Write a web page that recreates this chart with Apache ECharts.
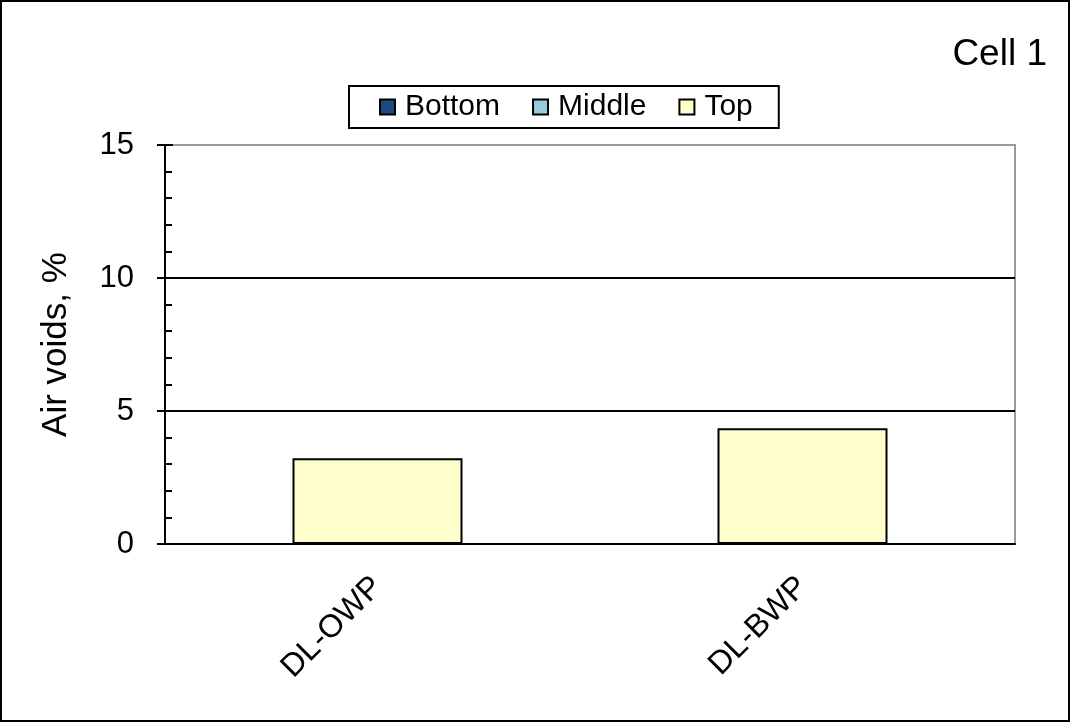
<meta charset="utf-8">
<script src="https://cdn.jsdelivr.net/npm/echarts@6/dist/echarts.min.js"></script>
<div id="main" style="position: absolute; left: 0; top: 0; width: 1071px; height: 723px;"></div>

<script type="text/javascript">
const categories = ['DL-OWP', 'DL-BWP']
const bottom = [0, 0]
const middle = [0, 0]
const top_ = [3.22, 4.35]
const yTicks = {min: 0, max: 15, interval: 5}

const font = 'Liberation Sans, Arial, sans-serif'
let myChart = echarts.init(main)

const bar = (name, color, data) => ({
  name: name,
  type: 'bar',
  stack: 'cell',
  data: data,
  barWidth: '40%',
  itemStyle: {color: color, borderColor: '#000', borderWidth: 2},
})

myChart.setOption({
  backgroundColor: '#fff',
  animation: false,
  textStyle: {fontFamily: font, color: '#000'},
  title: {
    text: 'Cell 1',
    right: 19,
    top: 31,
    textStyle: {fontSize: 37, fontWeight: 'normal', color: '#000', fontFamily: font},
  },
  legend: {
    data: ['Bottom', 'Middle', 'Top'],
    icon: 'rect',
    left: 349,
    top: 86,
    padding: [6, 26, 6, 30],
    itemGap: 32,
    itemWidth: 15,
    itemHeight: 15,
    borderColor: '#000',
    borderWidth: 2,
    textStyle: {fontSize: 30, color: '#000', fontFamily: font, padding: [0, 0, 0, 5]},
  },
  graphic: [{
    type: 'rect',
    shape: {x: 1, y: 1, width: 1068, height: 720},
    style: {fill: 'none', stroke: '#000', lineWidth: 2},
    silent: true,
  }],
  grid: {
    left: 165, right: 56, top: 145, bottom: 179,
    show: true, borderColor: '#999', borderWidth: 2,
  },
  xAxis: {
    type: 'category',
    data: categories,
    axisLine: {lineStyle: {color: '#000', width: 2}},
    axisTick: {length: 8, lineStyle: {color: '#000', width: 2}},
    axisLabel: {rotate: 45, fontSize: 32, color: '#000', margin: 38, fontFamily: font},
  },
  yAxis: [{
    type: 'value',
    min: yTicks.min, max: yTicks.max, interval: yTicks.interval,
    name: 'Air voids, %',
    nameLocation: 'middle',
    nameGap: 91,
    nameTextStyle: {fontSize: 35, color: '#000', fontFamily: font},
    axisLine: {show: true, lineStyle: {color: '#000', width: 2}},
    axisTick: {show: true, length: 8, lineStyle: {color: '#000', width: 2}},
    axisLabel: {fontSize: 31, color: '#000', margin: 31, fontFamily: font},
    splitLine: {lineStyle: {color: ['#000', '#000', '#000', '#999'], width: 2}},
  }, {
    type: 'value',
    position: 'left',
    min: yTicks.min, max: yTicks.max, interval: yTicks.interval,
    axisLine: {show: false},
    axisLabel: {show: false},
    splitLine: {show: false},
    axisTick: {show: true, inside: true, length: 8, lineStyle: {color: '#000', width: 2}},
    minorTick: {show: true, splitNumber: 5, length: 7, lineStyle: {color: '#000', width: 2}},
  }],
  series: [
    bar('Bottom', '#1F497D', bottom),
    bar('Middle', '#93CDDD', middle),
    bar('Top', '#FFFFCC', top_),
  ],
})
</script>
